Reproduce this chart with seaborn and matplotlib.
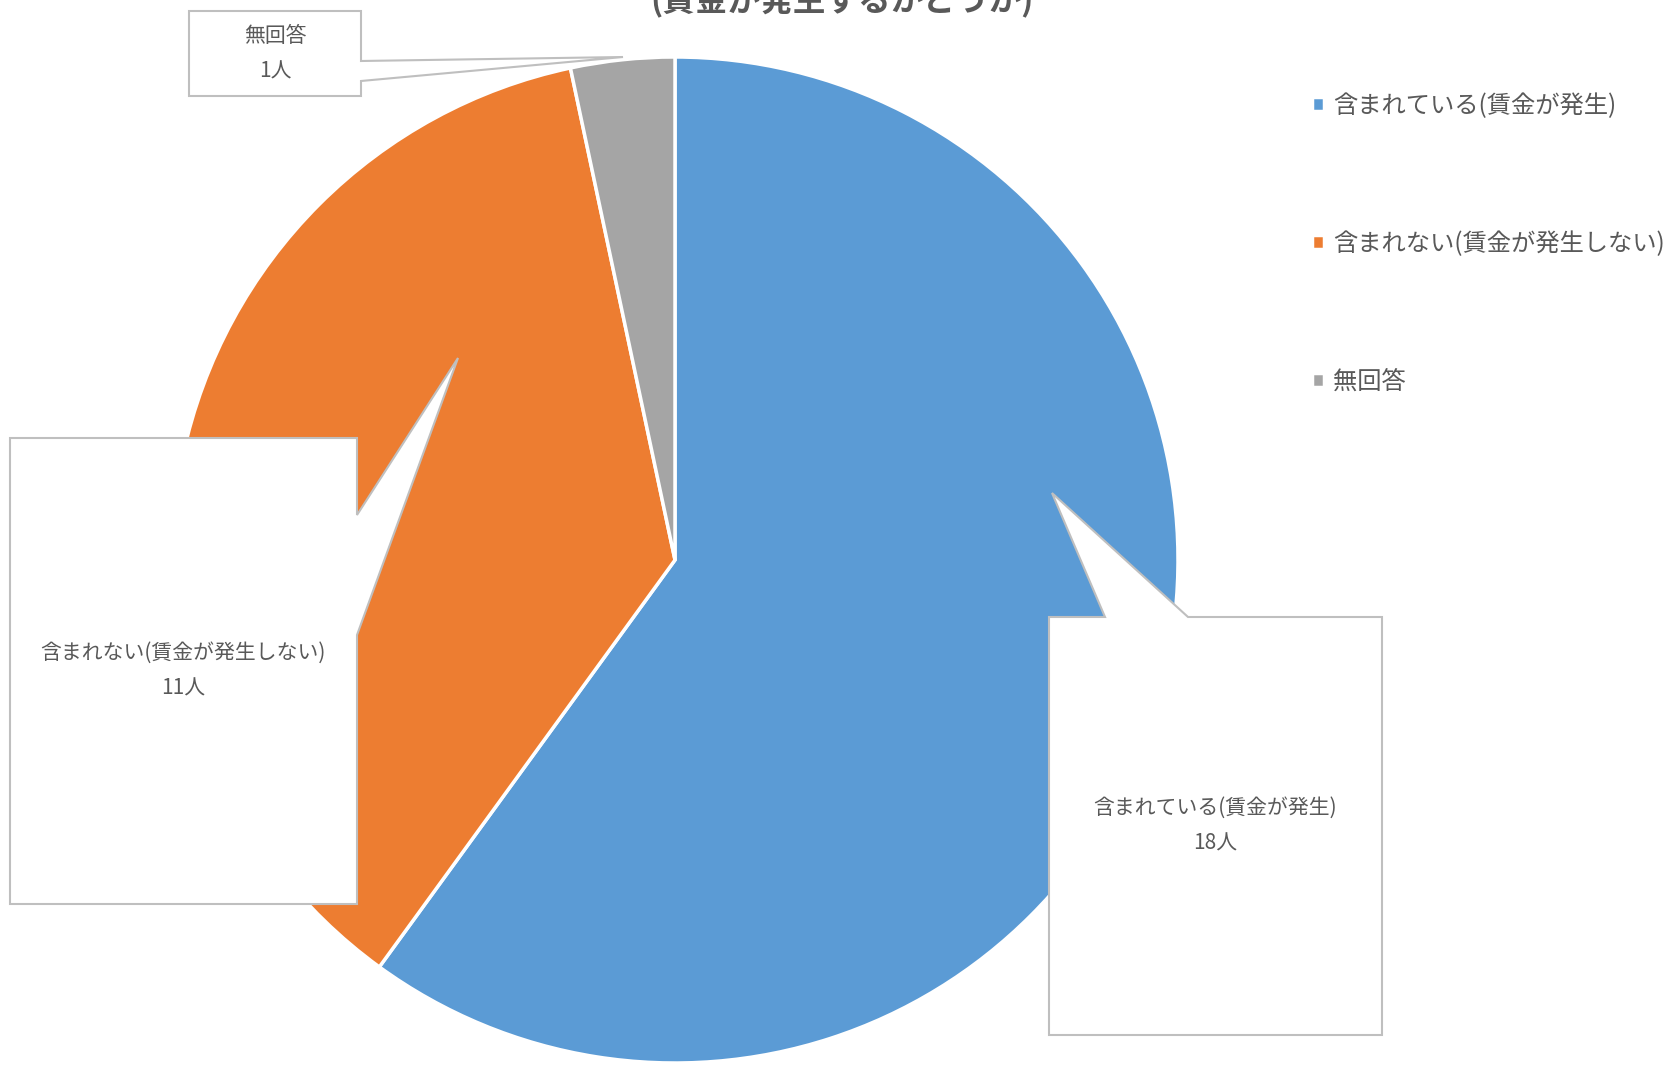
import matplotlib.pyplot as plt
from matplotlib.patches import Polygon
import seaborn as sns

# data
categories = ['含まれている(賃金が発生)', '含まれない(賃金が発生しない)', '無回答']
counts = [18, 11, 1]
slice_colors = ['#5B9BD5', '#ED7D31', '#A5A5A5']
title_text = '(賃金が発生するかどうか)'

sns.set_theme(style='white')
plt.rcParams['font.family'] = ['Noto Sans CJK JP', 'DejaVu Sans']

W, H = 1672, 1065
fig = plt.figure(figsize=(W / 100, H / 100), dpi=100)

# pie axes placed in pixel terms (center 675,560 radius 503)
cx, cy, r = 675, 560, 503
ax = fig.add_axes([(cx - r) / W, (H - cy - r) / H, 2 * r / W, 2 * r / H])
wedges, _ = ax.pie(counts, colors=slice_colors, startangle=90, counterclock=False,
                   radius=1, wedgeprops=dict(edgecolor='white', linewidth=2.5))
ax.set_xlim(-1, 1)
ax.set_ylim(-1, 1)
ax.axis('off')

# overlay in pixel coords for callouts
ov = fig.add_axes([0, 0, 1, 1], zorder=5)
ov.set_xlim(0, W)
ov.set_ylim(H, 0)
ov.axis('off')

text_col = '#595959'
border = '#BFBFBF'

callouts = [
    # blue
    dict(poly=[(1049, 617), (1105, 617), (1052, 493), (1188, 617), (1382, 617),
               (1382, 1035), (1049, 1035)], tx=1215, ty=808),
    # orange
    dict(poly=[(10, 438), (357, 438), (357, 515), (458, 358), (357, 635),
               (357, 904), (10, 904)], tx=183, ty=653),
    # gray
    dict(poly=[(189, 11), (361, 11), (361, 61), (623, 57), (361, 81),
               (361, 96), (189, 96)], tx=275, ty=36),
]

for c, name, n in zip(callouts, categories, counts):
    ov.add_patch(Polygon(c['poly'], closed=True, facecolor='white',
                         edgecolor=border, linewidth=1.5))
    ov.text(c['tx'], c['ty'], name, ha='center', va='center',
            fontsize=15, color=text_col)
    ov.text(c['tx'], c['ty'] + 36, f'{n}人', ha='center', va='center',
            fontsize=15, color=text_col)

# title (upper line is cut off in the original)
ov.text(842, 11, title_text, ha='center', va='baseline', fontsize=23.5,
        fontweight='bold', color=text_col)

# legend
fig.legend(wedges, categories, loc='upper left',
           bbox_to_anchor=(1312 / W, 1 - 93 / H), frameon=False,
           fontsize=17.5, labelcolor=text_col, handlelength=0.5,
           handleheight=0.5, handletextpad=0.35, labelspacing=4.6,
           borderpad=0, borderaxespad=0)

fig.savefig('out.png', dpi=100)
